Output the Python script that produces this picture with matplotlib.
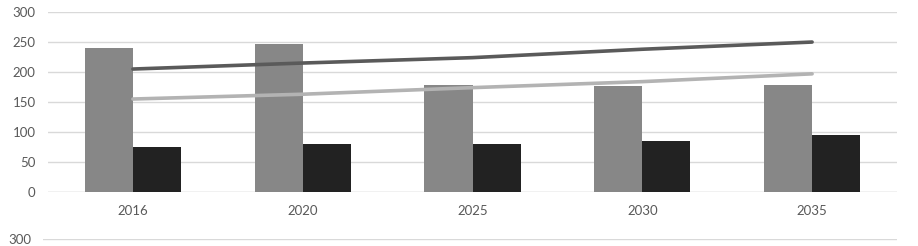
import matplotlib.pyplot as plt
import numpy as np

years = ["2016", "2020", "2025", "2030", "2035"]
bar_gray = [240, 247, 178, 177, 179]
bar_black = [75, 80, 80, 85, 95]
line_dark = [205, 215, 224, 238, 250]
line_light = [155, 163, 174, 184, 197]
y_ticks = [0, 50, 100, 150, 200, 250, 300]

plt.rcParams['font.family'] = ['Lato', 'DejaVu Sans']

fig = plt.figure(figsize=(9.18, 2.46), dpi=100)
ax = fig.add_axes([48 / 918, 0.2195, 849 / 918, 0.7315])

x = np.arange(len(years))
w = 0.283
ax.bar(x - w / 2, bar_gray, width=w, color="#878787", zorder=2)
ax.bar(x + w / 2, bar_black, width=w, color="#222222", zorder=2)
ax.plot(x, line_dark, color="#5a5a5a", lw=2.6, solid_capstyle="round", zorder=3)
ax.plot(x, line_light, color="#b3b3b3", lw=2.6, solid_capstyle="round", zorder=3)

ax.set_xlim(-0.5, len(years) - 0.5)
ax.set_ylim(0, 300)
ax.set_yticks(y_ticks)
ax.set_xticks(x)
ax.set_xticklabels(years)
ax.grid(axis="y", color="#d9d9d9", lw=1, zorder=0)
ax.tick_params(axis="both", length=0, labelsize=9.5, colors="#595959")
ax.tick_params(axis="y", pad=9)
ax.tick_params(axis="x", pad=9.5)
for s in ax.spines.values():
    s.set_visible(False)
ax.axhline(0, color="#d9d9d9", lw=1, zorder=1)

# second chart below, only its top gridline shows
ax2 = fig.add_axes([43 / 918, 0.0285 - 0.7315, 854 / 918, 0.7315])
ax2.set_ylim(0, 300)
ax2.set_yticks([300])
ax2.set_xticks([])
ax2.grid(axis="y", color="#d9d9d9", lw=1)
ax2.tick_params(axis="y", length=0, labelsize=9.5, colors="#595959", pad=8.5)
for s in ax2.spines.values():
    s.set_visible(False)

fig.savefig("out.png", dpi=100, facecolor="white")
